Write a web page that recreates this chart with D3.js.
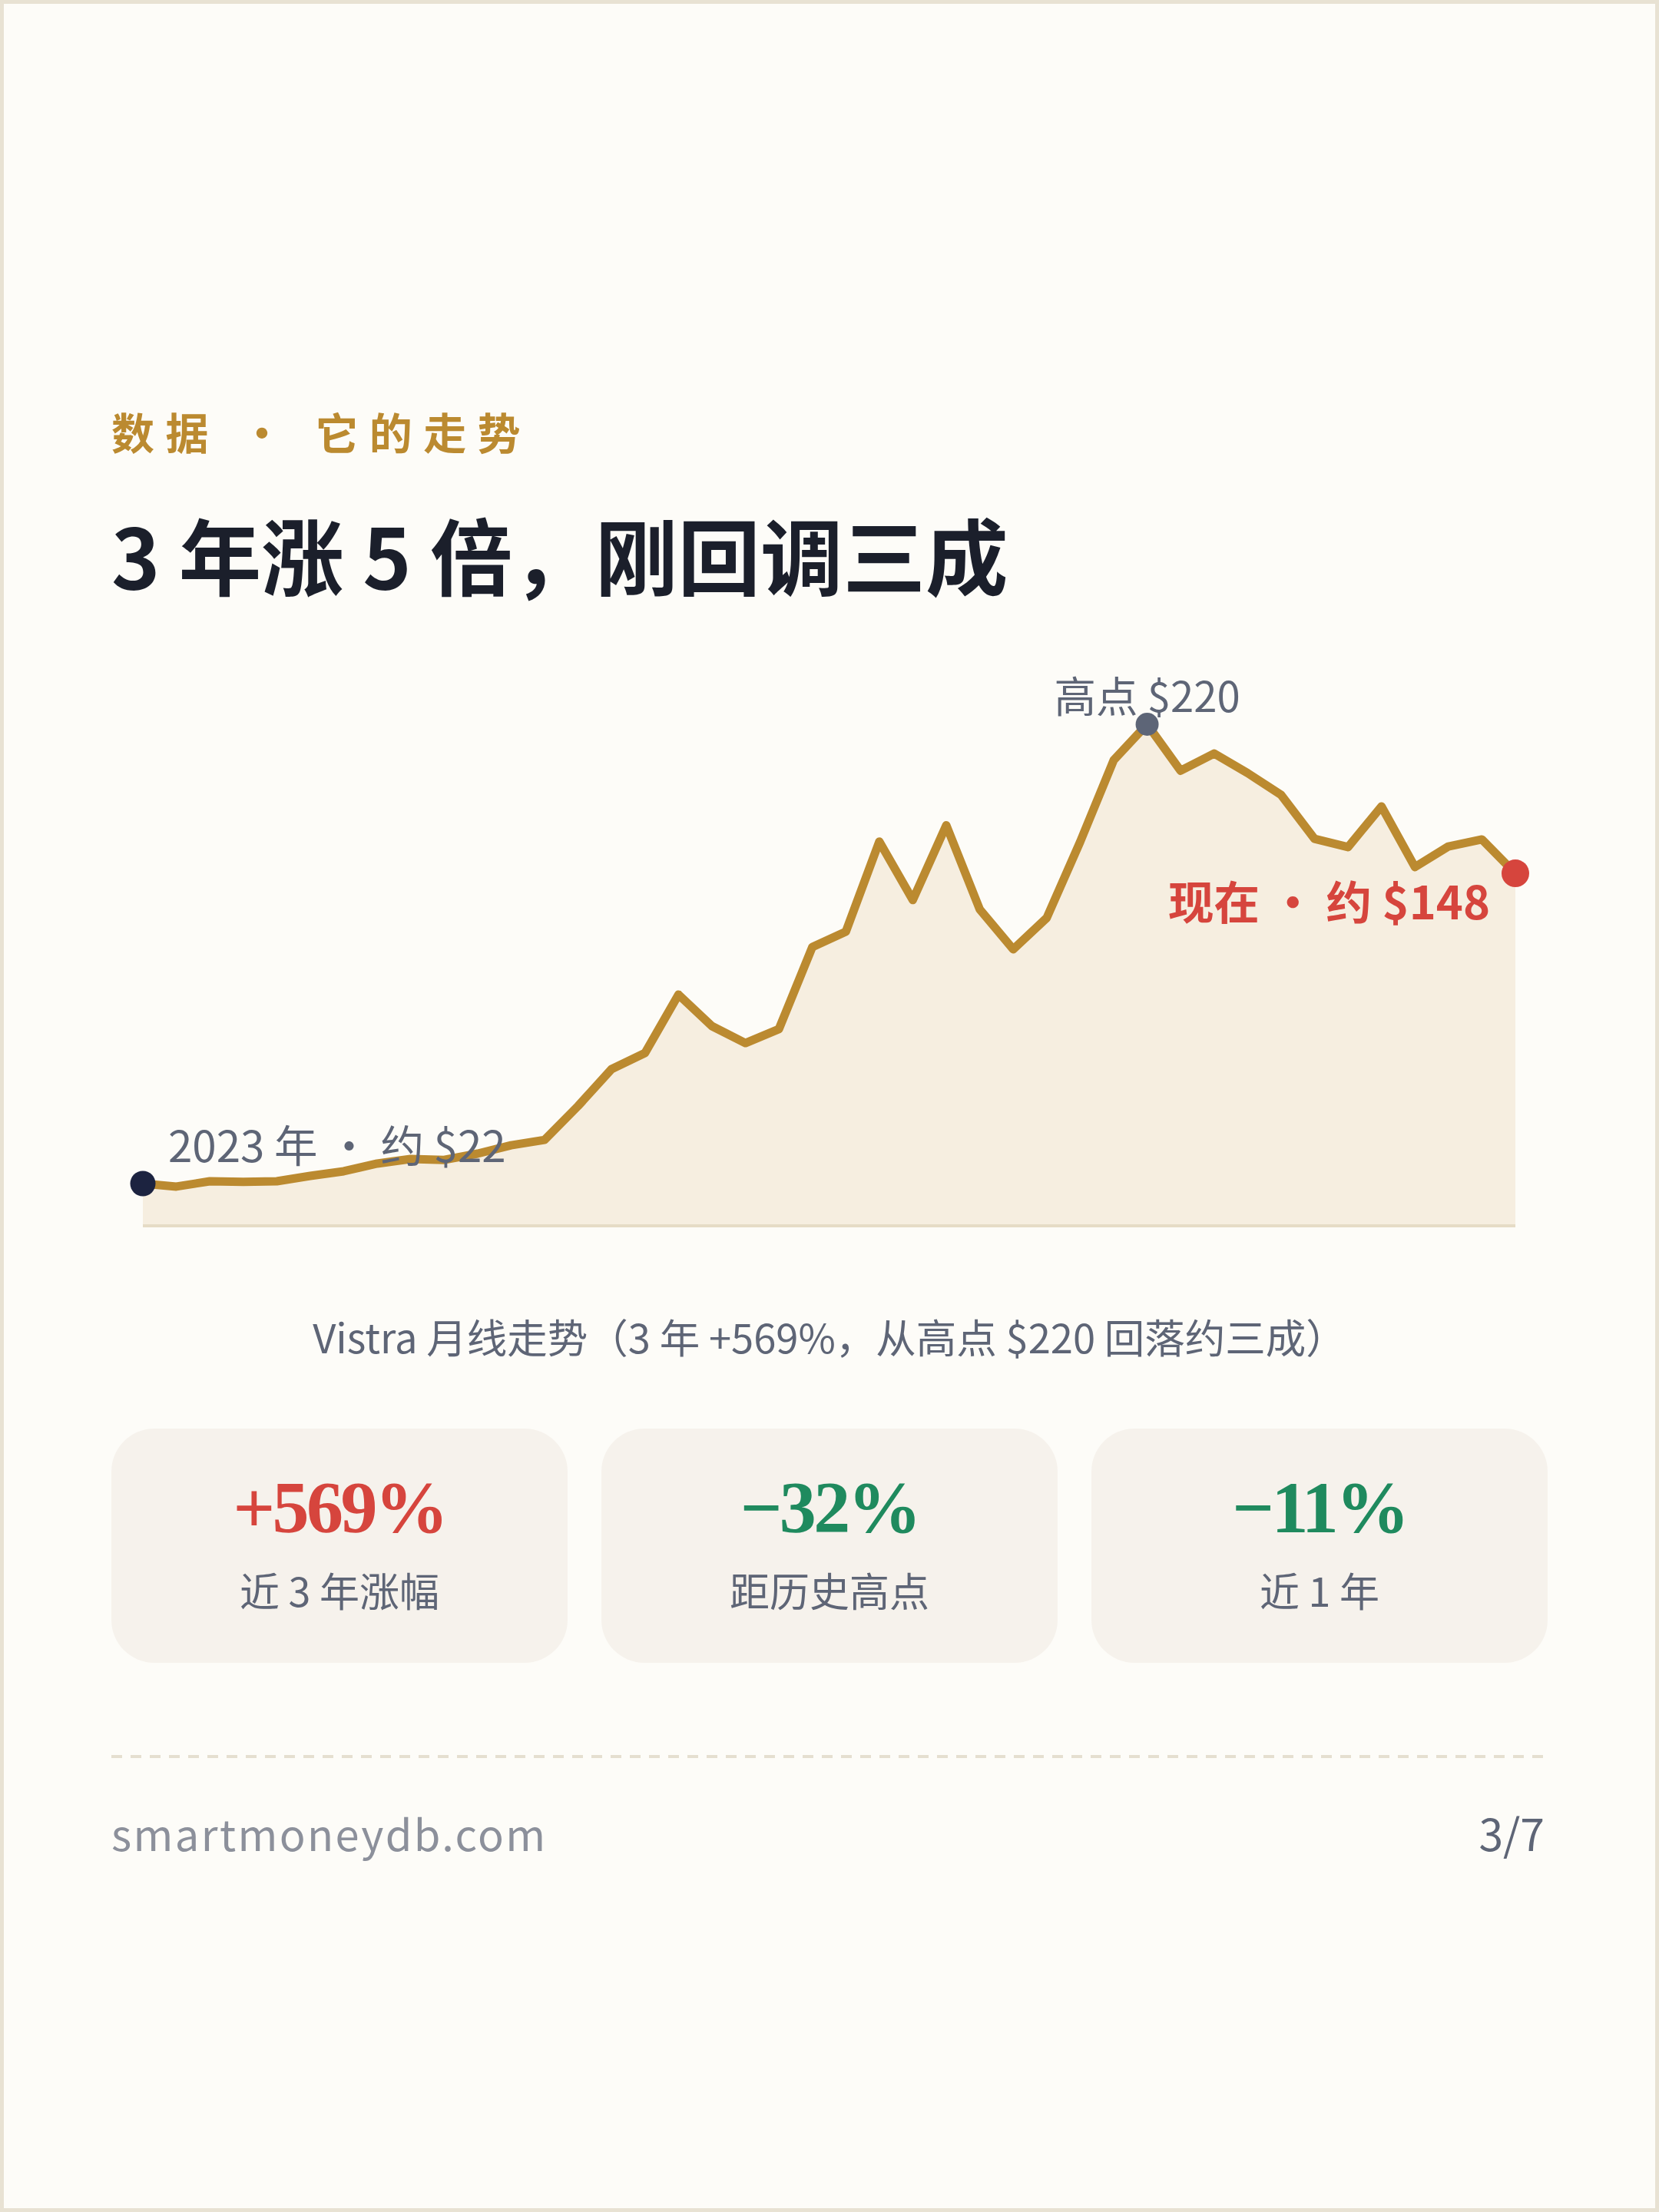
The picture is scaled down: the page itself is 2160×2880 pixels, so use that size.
<!DOCTYPE html>
<html lang="zh-CN">
<head>
<meta charset="utf-8">
<title>Vistra 月线走势</title>
<script src="https://cdn.jsdelivr.net/npm/d3@7"></script>
<style>
  html, body { margin:0; padding:0; background:#fdfcf8; }
  svg { display:block; }
</style>
</head>
<body>
<div id="chart"></div>
<script>
//Monthly closes
var months= ["2023-01","2023-02","2023-03","2023-04","2023-05","2023-06","2023-07","2023-08","2023-09","2023-10","2023-11","2023-12",
             "2024-01","2024-02","2024-03","2024-04","2024-05","2024-06","2024-07","2024-08","2024-09","2024-10","2024-11","2024-12",
             "2025-01","2025-02","2025-03","2025-04","2025-05","2025-06","2025-07","2025-08","2025-09","2025-10","2025-11","2025-12",
             "2026-01","2026-02","2026-03","2026-04","2026-05","2026-06"];
var prices= [22.2, 20.9, 23.2, 22.9, 23.2, 25.5, 27.5, 30.8, 32.8, 32.4, 35.1, 38.7,
             41.0, 55.6, 71.5, 78.4, 103.6, 90.0, 82.7, 88.7, 124.1, 130.7, 169.5, 144.3,
             176.5, 140.3, 123.1, 136.6, 169.4, 204.5, 220.0, 200.0, 207.4, 199.0, 189.6, 170.7,
             167.1, 184.6, 158.5, 167.4, 170.4, 155.8];

var statValues= ["+569%", "\u221232%", "\u221211%"];
var statLabels= ["近 3 年涨幅", "距历史高点", "近 1 年"];

var kicker= "数据 · 它的走势";
var title= "3 年涨 5 倍，刚回调三成";
var caption= "Vistra 月线走势（3 年 +569%，从高点 $220 回落约三成）";
var startLabel= "2023 年 · 约 $22";
var peakLabel= "高点 $220";
var nowLabel= "现在 · 约 $148";
var site= "smartmoneydb.com";
var pageNum= "3/7";

//Page vars
var W= 2160;
var H= 2880;
var mX= 145;

var sans= "'Noto Sans CJK SC', 'Noto Sans', sans-serif";
var serif= "'Liberation Serif', 'DejaVu Serif', serif";

var gold= "#bb8a30";
var ink= "#1b1f2b";
var grey= "#5e6576";
var red= "#d6453d";
var green= "#1f8a5e";

//Chart box
var cLeft= 186;
var cRight= 1973;
var cBase= 1596;
var cPeak= 943;

var svg= d3.select("#chart").append("svg")
            .attr("width", W)
            .attr("height", H)
            .attr("viewBox", "0 0 " + W + " " + H);

svg.append("rect")
    .attr("x", 0).attr("y", 0)
    .attr("width", W).attr("height", H)
    .attr("fill", "#fdfcf8");

svg.append("rect")
    .attr("x", 2.5).attr("y", 2.5)
    .attr("width", W-5).attr("height", H-5)
    .attr("fill", "none")
    .attr("stroke", "#e8e2d3")
    .attr("stroke-width", 5);

//Header
svg.append("text")
    .attr("x", mX)
    .attr("y", 585)
    .attr("fill", gold)
    .attr("font-family", sans)
    .attr("font-weight", 700)
    .attr("font-size", 56)
    .attr("letter-spacing", 14.4)
    .text(kicker);

svg.append("text")
    .attr("x", mX)
    .attr("y", 767)
    .attr("fill", ink)
    .attr("font-family", sans)
    .attr("font-weight", 700)
    .attr("font-size", 107.5)
    .text(title);

//Scales
var x= d3.scalePoint()
            .domain(months)
            .range([cLeft, cRight]);

var y= d3.scaleLinear()
            .domain([4, d3.max(prices)])
            .range([cBase, cPeak]);

var series= months.map(function(m,i) { return {month: m, price: prices[i]}; });

var area= d3.area()
            .x(function(d) { return x(d.month); })
            .y0(cBase)
            .y1(function(d) { return y(d.price); });

var line= d3.line()
            .x(function(d) { return x(d.month); })
            .y(function(d) { return y(d.price); });

var chart= svg.append("g").attr("id", "chart");

chart.append("path")
    .datum(series)
    .attr("fill", "#f6eee0")
    .attr("d", area);

chart.append("line")
    .attr("x1", cLeft).attr("x2", cRight)
    .attr("y1", cBase).attr("y2", cBase)
    .attr("stroke", "#e6dcc6")
    .attr("stroke-width", 4);

chart.append("path")
    .datum(series)
    .attr("fill", "none")
    .attr("stroke", gold)
    .attr("stroke-width", 11)
    .attr("stroke-linejoin", "round")
    .attr("stroke-linecap", "round")
    .attr("d", line);

var first= series[0];
var last= series[series.length-1];
var peak= series[d3.maxIndex(series, function(d) { return d.price; })];

//Marker dots
var dots= [
    {d: first, r: 16.5, fill: "#1c2340"},
    {d: peak, r: 15, fill: "#5d6577"},
    {d: last, r: 18, fill: red}
];

chart.selectAll("circle.mark")
    .data(dots)
    .enter().append("circle")
    .attr("class", "mark")
    .attr("cx", function(o) { return x(o.d.month); })
    .attr("cy", function(o) { return y(o.d.price); })
    .attr("r", function(o) { return o.r; })
    .attr("fill", function(o) { return o.fill; });

//Annotations
chart.append("text")
    .attr("x", x(first.month) + 33)
    .attr("y", y(first.price) - 28)
    .attr("fill", grey)
    .attr("font-family", sans)
    .attr("font-size", 56.5)
    .text(startLabel);

chart.append("text")
    .attr("x", x(peak.month))
    .attr("y", y(peak.price) - 16)
    .attr("text-anchor", "middle")
    .attr("fill", grey)
    .attr("font-family", sans)
    .attr("font-size", 54.5)
    .text(peakLabel);

chart.append("text")
    .attr("x", x(last.month) - 33)
    .attr("y", y(last.price) + 60)
    .attr("text-anchor", "end")
    .attr("fill", red)
    .attr("font-family", sans)
    .attr("font-weight", 700)
    .attr("font-size", 59.5)
    .text(nowLabel);

svg.append("text")
    .attr("x", W/2)
    .attr("y", 1762)
    .attr("text-anchor", "middle")
    .attr("fill", grey)
    .attr("font-family", sans)
    .attr("font-size", 52.5)
    .text(caption);

//Stat cards
var band= d3.scaleBand()
            .domain(statValues)
            .range([mX, W-mX])
            .paddingInner(44/638)
            .paddingOuter(0);

var cards= svg.selectAll("g.card")
                .data(statValues)
                .enter().append("g")
                .attr("class", "card")
                .attr("transform", function(d) { return "translate(" + band(d) + ",0)"; });

cards.append("rect")
    .attr("x", 0)
    .attr("y", 1860)
    .attr("width", band.bandwidth())
    .attr("height", 305)
    .attr("rx", 56)
    .attr("fill", "#f6f2ec");

cards.append("text")
    .attr("x", band.bandwidth()/2)
    .attr("y", 1995)
    .attr("text-anchor", "middle")
    .attr("fill", function(d) { return d.charAt(0) == "+" ? red : green; })
    .attr("font-family", serif)
    .attr("font-weight", 700)
    .attr("font-size", 96)
    .attr("letter-spacing", -3.5)
    .text(function(d) { return d; });

cards.append("text")
    .attr("x", band.bandwidth()/2)
    .attr("y", 2092)
    .attr("text-anchor", "middle")
    .attr("fill", grey)
    .attr("font-family", sans)
    .attr("font-size", 52)
    .text(function(d,i) { return statLabels[i]; });

//Footer
svg.append("line")
    .attr("x1", mX).attr("x2", W-mX)
    .attr("y1", 2287).attr("y2", 2287)
    .attr("stroke", "#e5dfd0")
    .attr("stroke-width", 4)
    .attr("stroke-dasharray", "14 11");

svg.append("text")
    .attr("x", mX)
    .attr("y", 2410)
    .attr("fill", "#8c909b")
    .attr("font-family", sans)
    .attr("font-size", 56)
    .attr("letter-spacing", 2.4)
    .text(site);

svg.append("text")
    .attr("x", 2011)
    .attr("y", 2410)
    .attr("text-anchor", "end")
    .attr("fill", grey)
    .attr("font-family", sans)
    .attr("font-size", 57)
    .text(pageNum);
</script>
</body>
</html>
